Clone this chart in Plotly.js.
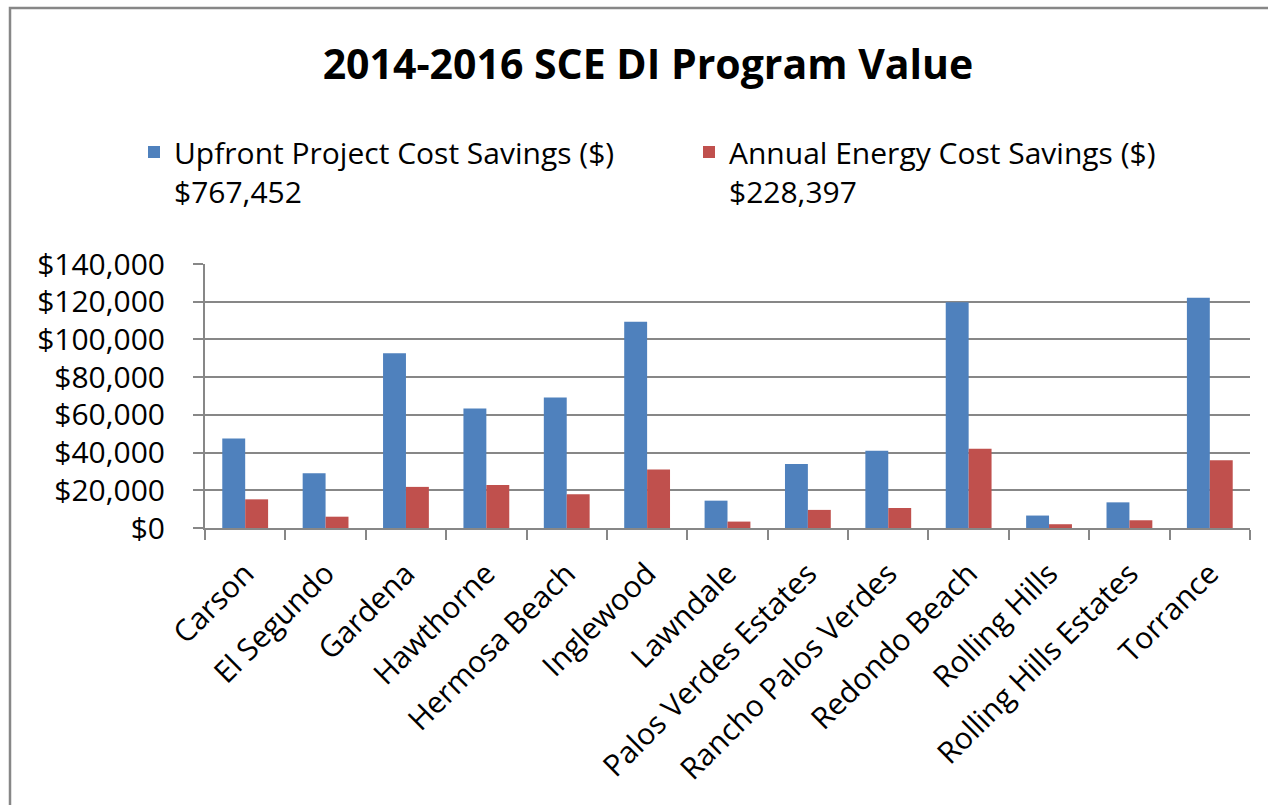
<!DOCTYPE html>
<html>
<head>
<meta charset="utf-8">
<script src="https://cdn.plot.ly/plotly-3.0.1.min.js"></script>
<style>
  html, body { margin: 0; padding: 0; background: #fff; overflow: hidden; }
  #chart { width: 1268px; height: 805px; }
</style>
</head>
<body>
<div id="chart"></div>
<script>
const cities = ["Carson", "El Segundo", "Gardena", "Hawthorne", "Hermosa Beach", "Inglewood",
  "Lawndale", "Palos Verdes Estates", "Rancho Palos Verdes", "Redondo Beach",
  "Rolling Hills", "Rolling Hills Estates", "Torrance"];
const upfrontSavings = [47400, 29000, 92700, 63400, 69200, 109400, 14500, 34000, 40900, 119700, 6600, 13600, 122100];
const annualSavings = [15200, 6000, 21800, 22800, 17900, 31000, 3400, 9600, 10600, 42000, 2000, 4100, 35900];
const upfrontName = "Upfront Project Cost Savings ($)<br>$767,452";
const annualName = "Annual Energy Cost Savings ($)<br>$228,397";
const yTicks = [0, 20000, 40000, 60000, 80000, 100000, 120000, 140000];
const yTickText = ["$0", "$20,000", "$40,000", "$60,000", "$80,000", "$100,000", "$120,000", "$140,000"];

const FONT = "Open Sans, sans-serif";
const GRID = "#878787";

const traces = [
  { type: "bar", name: upfrontName, x: cities, y: upfrontSavings,
    marker: { color: "#4F81BD", line: { width: 0 } } },
  { type: "bar", name: annualName, x: cities, y: annualSavings,
    marker: { color: "#C0504D", line: { width: 0 } } }
];

const L = 205, R = 18, T = 264, B = 277;
const W = 1268, H = 805;
const pw = W - L - R, ph = H - T - B;
const px = v => (v - L) / pw;
const py = v => 1 - (v - T) / ph;

const layout = {
  width: W, height: H,
  margin: { l: L, r: R, t: T, b: B, pad: 0 },
  paper_bgcolor: "#ffffff", plot_bgcolor: "#ffffff",
  font: { family: FONT, color: "#000000" },
  title: { text: "<b>2014-2016 SCE DI Program Value</b>",
    font: { family: FONT, size: 41, color: "#000000" },
    x: 0.511, xanchor: "center", y: 1 - 65 / H, yanchor: "middle", xref: "container", yref: "container" },
  barmode: "group", bargap: 0.43, bargroupgap: 0,
  showlegend: true,
  legend: { orientation: "h", x: px(134), xanchor: "left", y: py(126), yanchor: "top",
    font: { family: FONT, size: 30, color: "#000000" }, valign: "top",
    entrywidth: 510, entrywidthmode: "pixels", bgcolor: "rgba(0,0,0,0)", traceorder: "normal" },
  xaxis: {
    type: "category", tickangle: -45, tickson: "boundaries",
    ticks: "outside", ticklen: 10, tickwidth: 2, tickcolor: GRID,
    showline: true, linecolor: GRID, linewidth: 2,
    showgrid: false, zeroline: false, ticklabelstandoff: 14,
    tickfont: { family: FONT, size: 30, color: "#000000" }
  },
  yaxis: {
    range: [0, 140000], tickvals: yTicks, ticktext: yTickText,
    ticks: "outside", ticklen: 10, tickwidth: 2, tickcolor: GRID,
    showline: true, linecolor: GRID, linewidth: 2, ticklabelstandoff: 22,
    showgrid: true, gridcolor: GRID, gridwidth: 2, zeroline: false,
    tickfont: { family: FONT, size: 30, color: "#000000" }
  },
  shapes: [
    { type: "rect", xref: "paper", yref: "paper",
      x0: px(10), x1: px(1300), y0: py(8), y1: py(840),
      line: { color: GRID, width: 2.5 }, fillcolor: "rgba(0,0,0,0)", layer: "below" }
  ]
};

Plotly.newPlot("chart", traces, layout, { displayModeBar: false, staticPlot: true });
</script>
</body>
</html>
